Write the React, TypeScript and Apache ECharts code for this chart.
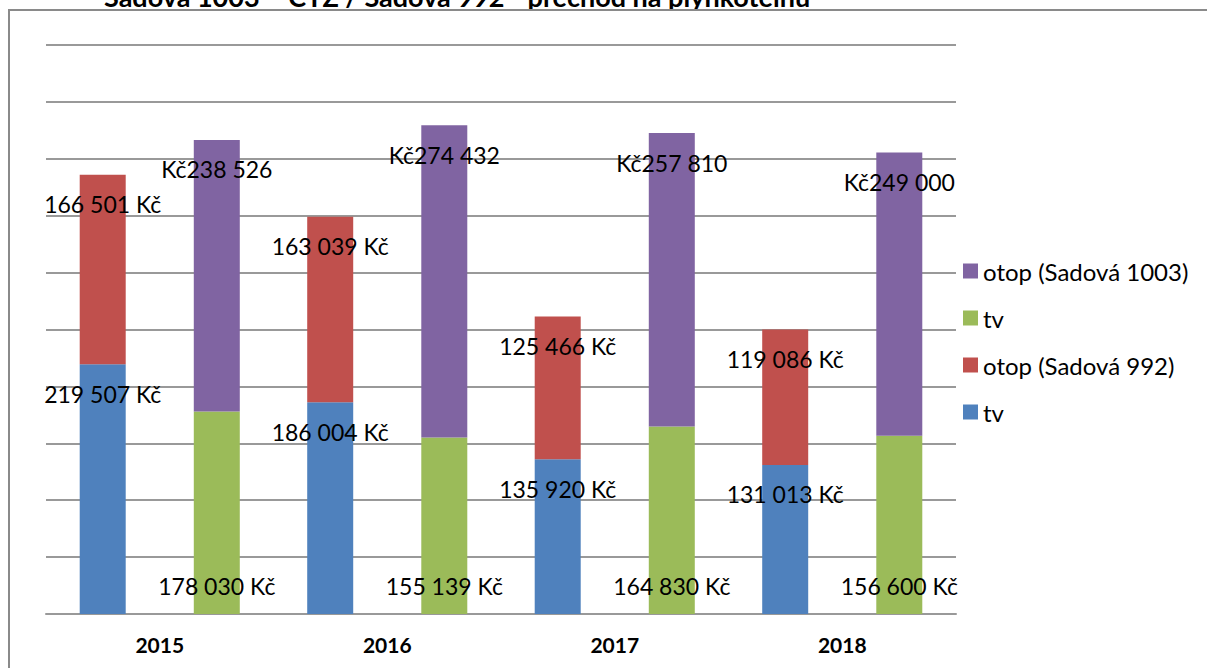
import React, { useEffect, useRef } from "react";
import * as echarts from "echarts";

const title = "Sadová 1003 – CTZ / Sadová 992 - přechod na plynkotelnu";
const years = ["2015", "2016", "2017", "2018"];
const tv992 = [219507, 186004, 135920, 131013];
const otop992 = [166501, 163039, 125466, 119086];
const tv1003 = [178030, 155139, 164830, 156600];
const otop1003 = [238526, 274432, 257810, 249000];

const FONT = "Lato";

const fmtNum = (v: number) => {
  const s = String(Math.round(v));
  return s.replace(/\B(?=(\d{3})+(?!\d))/g, " ");
};

export default function App() {
  const ref = useRef<HTMLDivElement>(null);
  useEffect(() => {
    if (!ref.current) return;
    const chart = echarts.init(ref.current, null, { renderer: "svg" });
    const labelBase = {
      show: true,
      color: "#000",
      fontFamily: FONT,
      fontSize: 23,
    };
    chart.setOption({
      animation: false,
      backgroundColor: "#fff",
      textStyle: { fontFamily: FONT },
      grid: { left: 46, right: 251, top: 45, bottom: 54 },
      xAxis: {
        type: "category",
        data: years,
        axisLine: { lineStyle: { color: "#999", width: 2 } },
        axisTick: { show: false },
        axisLabel: {
          color: "#000",
          fontWeight: "bold",
          fontSize: 21,
          fontFamily: FONT,
          margin: 20,
        },
      },
      yAxis: {
        type: "value",
        min: 0,
        max: 500000,
        interval: 50000,
        axisLabel: { show: false },
        axisLine: { show: false },
        axisTick: { show: false },
        splitLine: { lineStyle: { color: "#999", width: 2 } },
      },
      legend: {
        orient: "vertical",
        left: 958,
        top: 254,
        itemWidth: 15,
        itemHeight: 15,
        itemGap: 23,
        icon: "rect",
        data: ["otop (Sadová 1003)", "tv (Sadová 1003)", "otop (Sadová 992)", "tv (Sadová 992)"],
        formatter: (name: string) => (name.startsWith("tv") ? "tv" : name),
        textStyle: { color: "#000", fontSize: 24, fontFamily: FONT, lineHeight: 24 },
      },
      graphic: [
        {
          type: "text",
          left: 104,
          top: -17,
          style: { text: title, fontSize: 27, fontWeight: "bold", fontFamily: FONT, fill: "#000" },
        },
        {
          type: "line",
          shape: { x1: 8, y1: 10, x2: 1207, y2: 10 },
          style: { stroke: "#8a8a8a", lineWidth: 2 },
        },
        {
          type: "line",
          shape: { x1: 9, y1: 10, x2: 9, y2: 668 },
          style: { stroke: "#8a8a8a", lineWidth: 2 },
        },
      ],
      series: [
        {
          name: "tv (Sadová 992)",
          type: "bar",
          stack: "992",
          data: tv992,
          barWidth: 46,
          barGap: "148%",
          itemStyle: { color: "#4F81BD" },
          label: {
            ...labelBase,
            position: "insideTop",
            distance: 18,
            formatter: (p: any) => fmtNum(p.value) + " Kč",
          },
        },
        {
          name: "otop (Sadová 992)",
          type: "bar",
          stack: "992",
          data: otop992,
          barWidth: 46,
          itemStyle: { color: "#C0504D" },
          label: {
            ...labelBase,
            position: "insideTop",
            distance: 18,
            formatter: (p: any) => fmtNum(p.value) + " Kč",
          },
        },
        {
          name: "tv (Sadová 1003)",
          type: "bar",
          stack: "1003",
          data: tv1003,
          barWidth: 46,
          barGap: "148%",
          itemStyle: { color: "#9BBB59" },
          label: {
            ...labelBase,
            position: "insideBottom",
            distance: 17,
            formatter: (p: any) => fmtNum(p.value) + " Kč",
          },
        },
        {
          name: "otop (Sadová 1003)",
          type: "bar",
          stack: "1003",
          data: otop1003,
          barWidth: 46,
          itemStyle: { color: "#8064A2" },
          label: {
            ...labelBase,
            position: "insideTop",
            distance: 18,
            formatter: (p: any) => "Kč" + fmtNum(p.value),
          },
        },
      ],
    });
    return () => chart.dispose();
  }, []);
  return <div ref={ref} style={{ width: 1207, height: 668, position: "absolute", left: 0, top: 0 }} />;
}
